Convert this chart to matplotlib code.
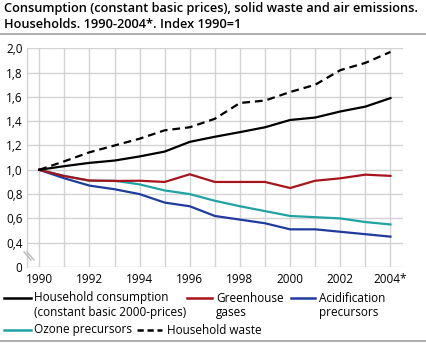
import matplotlib
matplotlib.use("Agg")
import matplotlib.pyplot as plt
from matplotlib.lines import Line2D

plt.rcParams['font.family'] = ['Open Sans', 'DejaVu Sans']

years = list(range(1990, 2005))
consumption = [1.0, 1.03, 1.057, 1.076, 1.11, 1.15, 1.23, 1.272, 1.31, 1.35, 1.41, 1.43, 1.48, 1.52, 1.59]
greenhouse = [1.0, 0.948, 0.912, 0.908, 0.91, 0.90, 0.963, 0.90, 0.90, 0.90, 0.85, 0.91, 0.93, 0.96, 0.95]
acidification = [1.0, 0.93, 0.87, 0.84, 0.80, 0.73, 0.70, 0.62, 0.59, 0.56, 0.51, 0.51, 0.49, 0.47, 0.45]
ozone = [1.0, 0.95, 0.91, 0.91, 0.88, 0.83, 0.80, 0.745, 0.70, 0.66, 0.62, 0.61, 0.60, 0.57, 0.55]
waste = [1.0, 1.07, 1.144, 1.20, 1.256, 1.325, 1.35, 1.42, 1.55, 1.57, 1.64, 1.70, 1.82, 1.88, 1.97]

yticks = [0.2, 0.4, 0.6, 0.8, 1.0, 1.2, 1.4, 1.6, 1.8, 2.0]
ytick_labels = ["0", "0,4", "0,6", "0,8", "1,0", "1,2", "1,4", "1,6", "1,8", "2,0"]
xticks = [1990, 1992, 1994, 1996, 1998, 2000, 2002, 2004]
xtick_labels = ["1990", "1992", "1994", "1996", "1998", "2000", "2002", "2004*"]

title = "Consumption (constant basic prices), solid waste and air emissions.\nHouseholds. 1990-2004*. Index 1990=1"

c_black = "#000000"
c_red = "#a8141c"
c_blue = "#1f3c9c"
c_teal = "#1fa3a3"

W, H = 426, 343
fig = plt.figure(figsize=(W / 100, H / 100), dpi=100)
ax = fig.add_axes([26.7 / W, 1 - 267 / H, (403 - 26.7) / W, (267 - 48.3) / H])

ax.set_xlim(1989.5, 2004.5)
ax.set_ylim(0.2, 2.0)
ax.set_yticks(yticks)
ax.set_yticklabels(ytick_labels)
ax.set_xticks(years)
ax.set_xticklabels([xtick_labels[xticks.index(y)] if y in xticks else "" for y in years])
ax.grid(True, color="#d2d2d2", linewidth=1.0)
ax.set_axisbelow(True)
for s in ["top", "right", "bottom"]:
    ax.spines[s].set_visible(False)
ax.spines["left"].set_color("#d2d2d2")
ax.spines["left"].set_linewidth(1.0)
ax.tick_params(length=0, labelsize=8.5, colors="#000000", pad=3)
ax.tick_params(axis="x", pad=4)

lw = 1.6
ax.plot(years, ozone, color=c_teal, lw=lw, clip_on=False)
ax.plot(years, acidification, color=c_blue, lw=lw, clip_on=False)
ax.plot(years, greenhouse, color=c_red, lw=lw, clip_on=False)
ax.plot(years, consumption, color=c_black, lw=lw, clip_on=False)
ax.plot(years, waste, color=c_black, lw=lw, ls=(0, (3.5, 2.2)), clip_on=False)

# axis break marks
for dx in (0, 3):
    fig.add_artist(Line2D([(24 + dx) / W, (31 + dx) / W], [1 - 252 / H, 1 - 260 / H],
                          color="#b8b8b8", lw=1.0))

# title
fig.text(4 / W, 1 - 2 / H, title, ha="left", va="top", fontsize=9.2,
         fontweight="semibold", linespacing=1.25)
fig.add_artist(Line2D([0, 1], [1 - 34 / H, 1 - 34 / H], color="#a0a0a0", lw=1.2))
fig.add_artist(Line2D([0, 1], [1 - 341 / H, 1 - 341 / H], color="#a0a0a0", lw=1.2))

# legend
fs = 8.5
def handle(x0, x1, y, color, ls="-"):
    fig.add_artist(Line2D([x0 / W, x1 / W], [1 - y / H, 1 - y / H], color=color, lw=1.8, ls=ls))

def label(x, y, lines):
    for i, t in enumerate(lines):
        fig.text(x / W, 1 - (y + i * 14.5) / H, t, ha="left", va="center", fontsize=fs)

handle(4, 31, 298, c_black)
label(34, 298, ["Household consumption", "(constant basic 2000-prices)"])
handle(187, 212, 298, c_red)
label(216, 298, ["Greenhouse", "gases"])
handle(291, 315, 298, c_blue)
label(319, 298, ["Acidification", "precursors"])
handle(4, 31, 330, c_teal)
label(34, 330, ["Ozone precursors"])
handle(137, 162, 330, c_black, ls=(0, (2.5, 1.5)))
label(167, 330, ["Household waste"])

fig.savefig("out.png", dpi=100)
